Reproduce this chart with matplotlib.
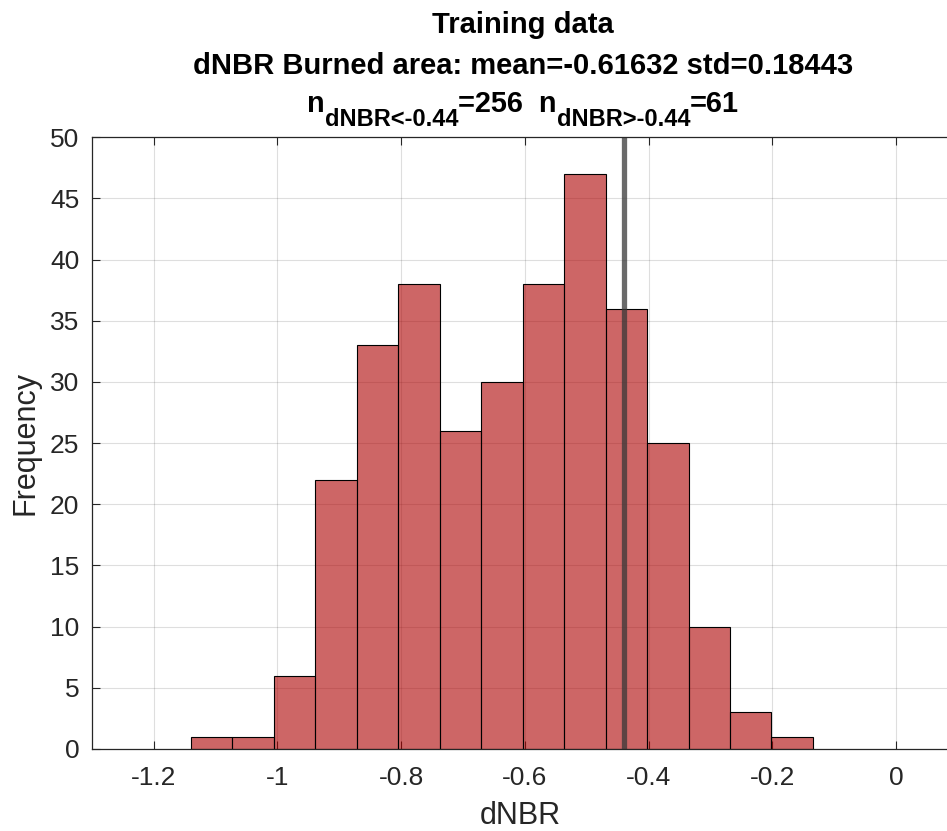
import numpy as np
import matplotlib
matplotlib.use("Agg")
import matplotlib.pyplot as plt

plt.rcParams['font.family'] = ['Liberation Sans', 'DejaVu Sans']

bin_edges = [-1.1395, -1.0725, -1.0055, -0.9385, -0.8715, -0.8045, -0.7375, -0.6705,
             -0.6035, -0.5365, -0.4695, -0.4025, -0.3355, -0.2685, -0.2015, -0.1345]
counts = [1, 1, 6, 22, 33, 38, 26, 30, 38, 47, 36, 25, 10, 3, 1]
threshold = -0.44
x_ticks = [-1.2, -1.0, -0.8, -0.6, -0.4, -0.2, 0.0]
x_ticklabels = ['-1.2', '-1', '-0.8', '-0.6', '-0.4', '-0.2', '0']
y_ticks = [0, 5, 10, 15, 20, 25, 30, 35, 40, 45, 50]
title1 = 'Training data'
title2 = 'dNBR Burned area: mean=-0.61632 std=0.18443'
# third title line: (text, is_subscript)
title3_parts = [('n', False), ('dNBR<-0.44', True), ('=256  n', False),
                ('dNBR>-0.44', True), ('=61', False)]

dark = (0.15, 0.15, 0.15)
W, H = 947, 831

fig = plt.figure(figsize=(9.47, 8.31), dpi=100)
ax = fig.add_axes([0.0968, 0.0987, 0.905, 0.7361])

ax.set_axisbelow(True)
ax.grid(True, color=(0.15, 0.15, 0.15), alpha=0.15, linewidth=0.8)

ax.hist(bin_edges[:-1], bins=bin_edges, weights=counts,
        facecolor=(0.68, 0.0, 0.0, 0.6), edgecolor='black', linewidth=0.8)

ax.axvline(threshold, color=(0.22, 0.22, 0.22), alpha=0.75, linewidth=3.8)

ax.set_xlim(-1.3, 0.085)
ax.set_ylim(0, 50)
ax.set_xticks(x_ticks)
ax.set_xticklabels(x_ticklabels)
ax.set_yticks(y_ticks)
ax.tick_params(direction='in', length=6, width=0.8, colors=dark, labelsize=19,
               top=True, right=False)
ax.tick_params(axis='x', pad=12)
ax.tick_params(axis='y', pad=9)
for s in ax.spines.values():
    s.set_color(dark)
    s.set_linewidth(0.9)

ax.set_xlabel('dNBR', fontsize=22, color=dark, labelpad=8)
ax.set_ylabel('Frequency', fontsize=22, color=dark, labelpad=7)

cx = 523 / W
fig.text(cx, 1 - 33 / H, title1, ha='center', va='baseline', fontsize=21, fontweight='bold')
fig.text(cx, 1 - 74 / H, title2, ha='center', va='baseline', fontsize=21, fontweight='bold')

# compose third line with subscripts
main_size, sub_size = 20.8, 17
base_y = 112
sub_drop = 14
renderer = fig.canvas.get_renderer()
texts = []
widths = []
for txt, is_sub in title3_parts:
    t = fig.text(0, 0, txt, fontsize=sub_size if is_sub else main_size,
                 fontweight='bold', ha='left', va='baseline')
    texts.append((t, is_sub))
    widths.append(t.get_window_extent(renderer).width)
total = sum(widths)
x = cx * W - total / 2
for (t, is_sub), w in zip(texts, widths):
    y = base_y + (sub_drop if is_sub else 0)
    t.set_position((x / W, 1 - y / H))
    x += w

fig.savefig('out.png', dpi=100)
